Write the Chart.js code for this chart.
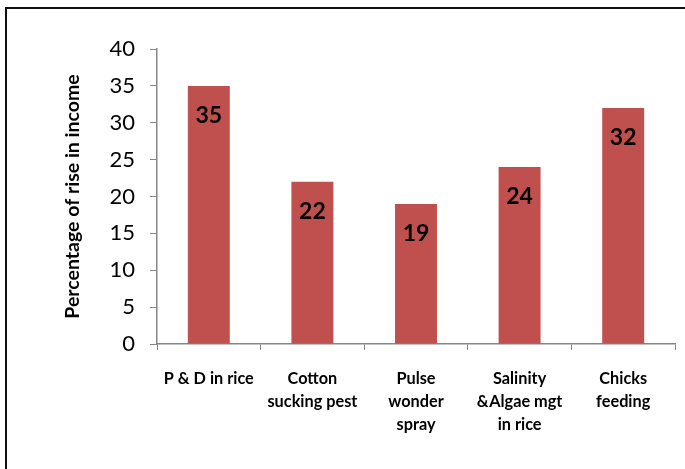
<!DOCTYPE html>
<html>
<head>
<meta charset="utf-8">
<script src="https://cdn.jsdelivr.net/npm/chart.js@4"></script>
<style>
html,body{margin:0;padding:0;background:#fff;overflow:hidden;}
#wrap{position:relative;width:685px;height:469px;}
#frame{position:absolute;left:5px;top:7px;width:720px;height:520px;border:2px solid #111;box-sizing:border-box;}
canvas{position:absolute;left:0;top:0;}
</style>
</head>
<body>
<div id="wrap">
<div id="frame"></div>
<canvas id="c" width="685" height="469"></canvas>
</div>
<script>
const categories = [
  ['P & D in rice'],
  ['Cotton', 'sucking pest'],
  ['Pulse', 'wonder', 'spray'],
  ['Salinity', '&Algae mgt', 'in rice'],
  ['Chicks', 'feeding']
];
const riseValues = [35, 22, 19, 24, 32];
const yTicks = [0, 5, 10, 15, 20, 25, 30, 35, 40];
const yTitle = 'Percentage of rise in income';

const FONT = 'Lato, Carlito, "Open Sans", sans-serif';

const valueLabels = {
  id: 'valueLabels',
  afterDatasetsDraw(chart) {
    const ctx = chart.ctx;
    const meta = chart.getDatasetMeta(0);
    ctx.save();
    ctx.font = 'bold 23px ' + FONT;
    ctx.fillStyle = '#000';
    ctx.textAlign = 'center';
    ctx.textBaseline = 'middle';
    meta.data.forEach((bar, i) => {
      ctx.fillText(String(chart.data.datasets[0].data[i]), bar.x, bar.y + 30);
    });
    ctx.restore();
  }
};

new Chart(document.getElementById('c'), {
  type: 'bar',
  data: {
    labels: categories,
    datasets: [{
      data: riseValues,
      backgroundColor: '#C0504D',
      borderWidth: 0,
      categoryPercentage: 1,
      barPercentage: 0.405
    }]
  },
  options: {
    responsive: false,
    animation: false,
    devicePixelRatio: 1,
    layout: { padding: { left: 0, top: 49, right: 10, bottom: 0 } },
    plugins: { legend: { display: false }, tooltip: { enabled: false } },
    scales: {
      x: {
        offset: true,
        grid: { display: true, drawOnChartArea: false, drawTicks: true, tickLength: 6, color: '#868686', offset: true },
        border: { display: true, color: '#868686', width: 1.5 },
        ticks: {
          autoSkip: false, maxRotation: 0, minRotation: 0, padding: 17,
          color: '#000', font: { family: FONT, size: 16.3, weight: 'bold', lineHeight: 1.42 }
        },
        afterFit(s) { s.height = 469 - 344; }
      },
      y: {
        min: 0, max: 40,
        afterBuildTicks(s) { s.ticks = yTicks.map(v => ({ value: v })); },
        grid: { display: true, drawOnChartArea: false, drawTicks: true, tickLength: 7, color: '#868686' },
        border: { display: true, color: '#868686', width: 1.5 },
        ticks: { padding: 15, color: '#000', font: { family: FONT, size: 22 } },
        title: {
          display: true, text: yTitle, color: '#000',
          font: { family: FONT, size: 19.5, weight: 'bold', lineHeight: 1.2 },
          padding: { top: 61, bottom: 0 }
        },
        afterFit(s) { s.width = 157; }
      }
    }
  },
  plugins: [valueLabels]
});
</script>
</body>
</html>
